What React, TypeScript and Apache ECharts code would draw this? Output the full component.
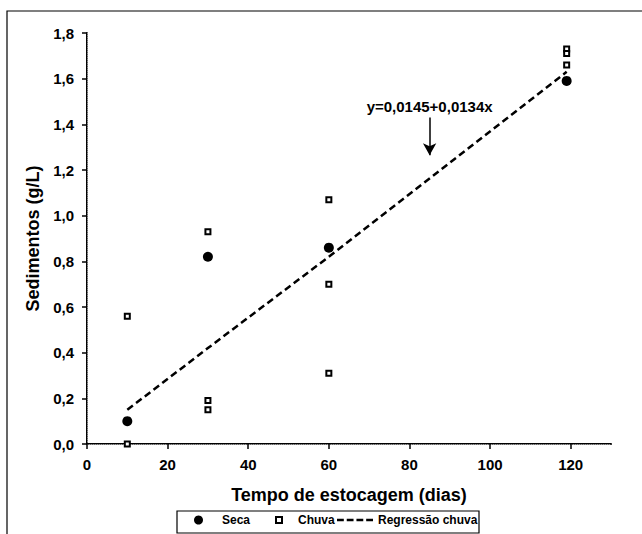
import React, { useEffect, useRef } from "react";
import * as echarts from "echarts";

const secaData: [number, number][] = [
  [10, 0.1],
  [30, 0.82],
  [60, 0.86],
  [119, 1.59],
];
const chuvaData: [number, number][] = [
  [10, 0.0],
  [10, 0.56],
  [30, 0.93],
  [30, 0.19],
  [30, 0.15],
  [60, 1.07],
  [60, 0.7],
  [60, 0.31],
  [119, 1.73],
  [119, 1.71],
  [119, 1.66],
];
const regressaoData: [number, number][] = [
  [10, 0.15],
  [30, 0.42],
  [60, 0.82],
  [119, 1.63],
];
const arrowStart: [number, number] = [85, 1.43];
const arrowEnd: [number, number] = [85, 1.265];
const equationText = "y=0,0145+0,0134x";
const xTickLabels = ["0", "20", "40", "60", "80", "100", "120"];
const yTickLabels = ["0,0", "0,2", "0,4", "0,6", "0,8", "1,0", "1,2", "1,4", "1,6", "1,8"];
const seriesNames = ["Seca", "Chuva", "Regressão chuva"];
const xTitle = "Tempo de estocagem (dias)";
const yTitle = "Sedimentos (g/L)";

const FONT = "'Liberation Sans', Arial, sans-serif";
const DASH_ICON = "path://M0 0h7v2H0zM10 0h7v2h-7zM20 0h7v2h-7zM30 0h7v2h-7z";

export default function App() {
  const ref = useRef<HTMLDivElement>(null);
  useEffect(() => {
    if (!ref.current) return;
    const chart = echarts.init(ref.current, undefined, { renderer: "svg" });
    const legendText = { color: "#000", fontSize: 12, fontWeight: "bold" as const, fontFamily: FONT };
    chart.setOption({
      animation: false,
      backgroundColor: "#fff",
      textStyle: { fontFamily: FONT },
      grid: { left: 87, right: 31, top: 33, bottom: 90 },
      xAxis: [
        {
          type: "value",
          min: 0,
          max: 130,
          interval: 20,
          name: xTitle,
          nameLocation: "middle",
          nameGap: 42,
          nameTextStyle: { fontSize: 18, fontWeight: "bold", color: "#000", fontFamily: FONT },
          axisLine: { lineStyle: { color: "#000", width: 2 } },
          axisTick: { show: true, length: 5, lineStyle: { color: "#000", width: 1.5 } },
          axisLabel: {
            showMaxLabel: false,
            margin: 13,
            fontSize: 15,
            fontWeight: "bold",
            color: "#000",
            fontFamily: FONT,
            formatter: (v: number) => xTickLabels[Math.round(v / 20)] ?? "",
          },
          splitLine: { show: false },
        },
        {
          type: "value",
          position: "top",
          min: 0,
          max: 130,
          axisLine: { show: true, lineStyle: { color: "#999", width: 1, type: "dotted" } },
          axisTick: { show: false },
          axisLabel: { show: false },
          splitLine: { show: false },
        },
      ],
      yAxis: [
        {
          type: "value",
          min: 0,
          max: 1.8,
          interval: 0.2,
          name: yTitle,
          nameLocation: "middle",
          nameGap: 44,
          nameTextStyle: { fontSize: 18, fontWeight: "bold", color: "#000", fontFamily: FONT },
          axisLine: { show: true, lineStyle: { color: "#000", width: 2 } },
          axisTick: { show: true, length: 5, lineStyle: { color: "#000", width: 1.5 } },
          axisLabel: {
            margin: 13,
            fontSize: 15,
            fontWeight: "bold",
            color: "#000",
            fontFamily: FONT,
            formatter: (v: number) => yTickLabels[Math.round(v / 0.2)] ?? "",
          },
          splitLine: { show: false },
        },
        {
          type: "value",
          position: "right",
          min: 0,
          max: 1.8,
          axisLine: { show: true, lineStyle: { color: "#999", width: 1, type: "dotted" } },
          axisTick: { show: false },
          axisLabel: { show: false },
          splitLine: { show: false },
        },
      ],
      legend: [
        {
          data: [{ name: seriesNames[0], icon: "circle" }],
          left: 194,
          top: 514,
          padding: 0,
          itemWidth: 9,
          itemHeight: 9,
          textStyle: { ...legendText, padding: [0, 0, 0, 14] },
        },
        {
          data: [{ name: seriesNames[1], icon: "rect" }],
          left: 275,
          top: 514,
          padding: 0,
          itemWidth: 6,
          itemHeight: 6,
          textStyle: { ...legendText, padding: [0, 0, 0, 11] },
        },
        {
          data: [{ name: seriesNames[2], icon: DASH_ICON, itemStyle: { color: "#000" } }],
          left: 337,
          top: 514,
          padding: 0,
          itemWidth: 36,
          itemHeight: 2.5,
          symbolKeepAspect: false,
          textStyle: legendText,
        },
      ],
      graphic: [
        {
          type: "rect",
          shape: { x: 7, y: 11, width: 700, height: 600 },
          style: { fill: "none", stroke: "#000", lineWidth: 1.2 },
          silent: true,
        },
        {
          type: "rect",
          shape: { x: 177, y: 511, width: 302, height: 22 },
          style: { fill: "none", stroke: "#000", lineWidth: 1.2 },
          silent: true,
        },
      ],
      series: [
        {
          name: seriesNames[0],
          type: "scatter",
          data: secaData,
          symbol: "circle",
          symbolSize: 10,
          itemStyle: { color: "#000", opacity: 1 },
          z: 3,
        },
        {
          name: seriesNames[1],
          type: "scatter",
          data: chuvaData,
          symbol: "rect",
          symbolSize: 5,
          itemStyle: { color: "#fff", borderColor: "#000", borderWidth: 2, opacity: 1 },
          z: 4,
        },
        {
          name: seriesNames[2],
          type: "line",
          data: regressaoData,
          symbol: "none",
          lineStyle: { color: "#000", width: 2.5, type: [7, 4] },
          itemStyle: { color: "#000" },
          z: 2,
          markLine: {
            silent: true,
            symbol: ["none", "arrow"],
            symbolSize: [10, 12],
            lineStyle: { color: "#000", width: 1.5, type: "solid" },
            label: {
              show: true,
              position: "start",
              distance: 3,
              formatter: equationText,
              fontSize: 15,
              fontWeight: "bold",
              color: "#000",
              fontFamily: FONT,
            },
            data: [[{ coord: arrowStart }, { coord: arrowEnd }]],
          },
        },
      ],
    });
    return () => chart.dispose();
  }, []);
  return (
    <div
      ref={ref}
      style={{ position: "fixed", left: 0, top: 0, width: 642, height: 534 }}
    />
  );
}
